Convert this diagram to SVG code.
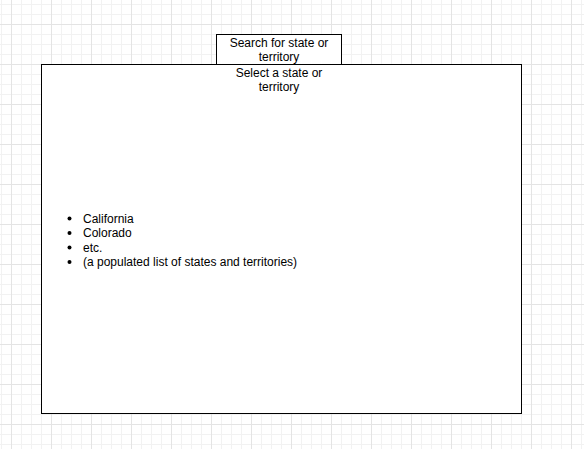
<svg xmlns="http://www.w3.org/2000/svg" width="584" height="449" viewBox="0 0 584 449">
<style>
text{font-family:"Liberation Sans",Arial,sans-serif;font-size:12px;fill:#000}
.c{text-anchor:middle}
.box{fill:#fff;stroke:#000;stroke-width:1}
</style>
<defs>
<pattern id="minor" width="10" height="10" patternUnits="userSpaceOnUse" x="1" y="4">
<path d="M0.5 0V10M0 0.5H10" stroke="#f2f2f2" stroke-width="1" fill="none"/>
</pattern>
<pattern id="major" width="40" height="40" patternUnits="userSpaceOnUse" x="11" y="24">
<path d="M0.5 0V40M0 0.5H40" stroke="#e4e4e4" stroke-width="1" fill="none"/>
</pattern>
</defs>
<rect width="584" height="449" fill="#fff"/>
<rect width="584" height="449" fill="url(#minor)"/>
<rect width="584" height="449" fill="url(#major)"/>
<g id="connectors"></g>
<g id="search">
<rect class="box" x="216.5" y="34.5" width="125" height="30"/>
<text class="c" x="279" y="47">Search for state or</text>
<text class="c" x="279" y="61">territory</text>
</g>
<g id="list">
<rect class="box" x="41.5" y="64.5" width="480" height="349"/>
<text class="c" x="279" y="77">Select a state or</text>
<text class="c" x="279" y="91">territory</text>
<g fill="#000">
<circle cx="69.5" cy="218.5" r="2"/>
<circle cx="69.5" cy="233" r="2"/>
<circle cx="69.5" cy="247.5" r="2"/>
<circle cx="69.5" cy="262" r="2"/>
</g>
<text x="83" y="222.5">California</text>
<text x="83" y="237">Colorado</text>
<text x="83" y="251.5">etc.</text>
<text x="83" y="266">(a populated list of states and territories)</text>
</g>
</svg>
